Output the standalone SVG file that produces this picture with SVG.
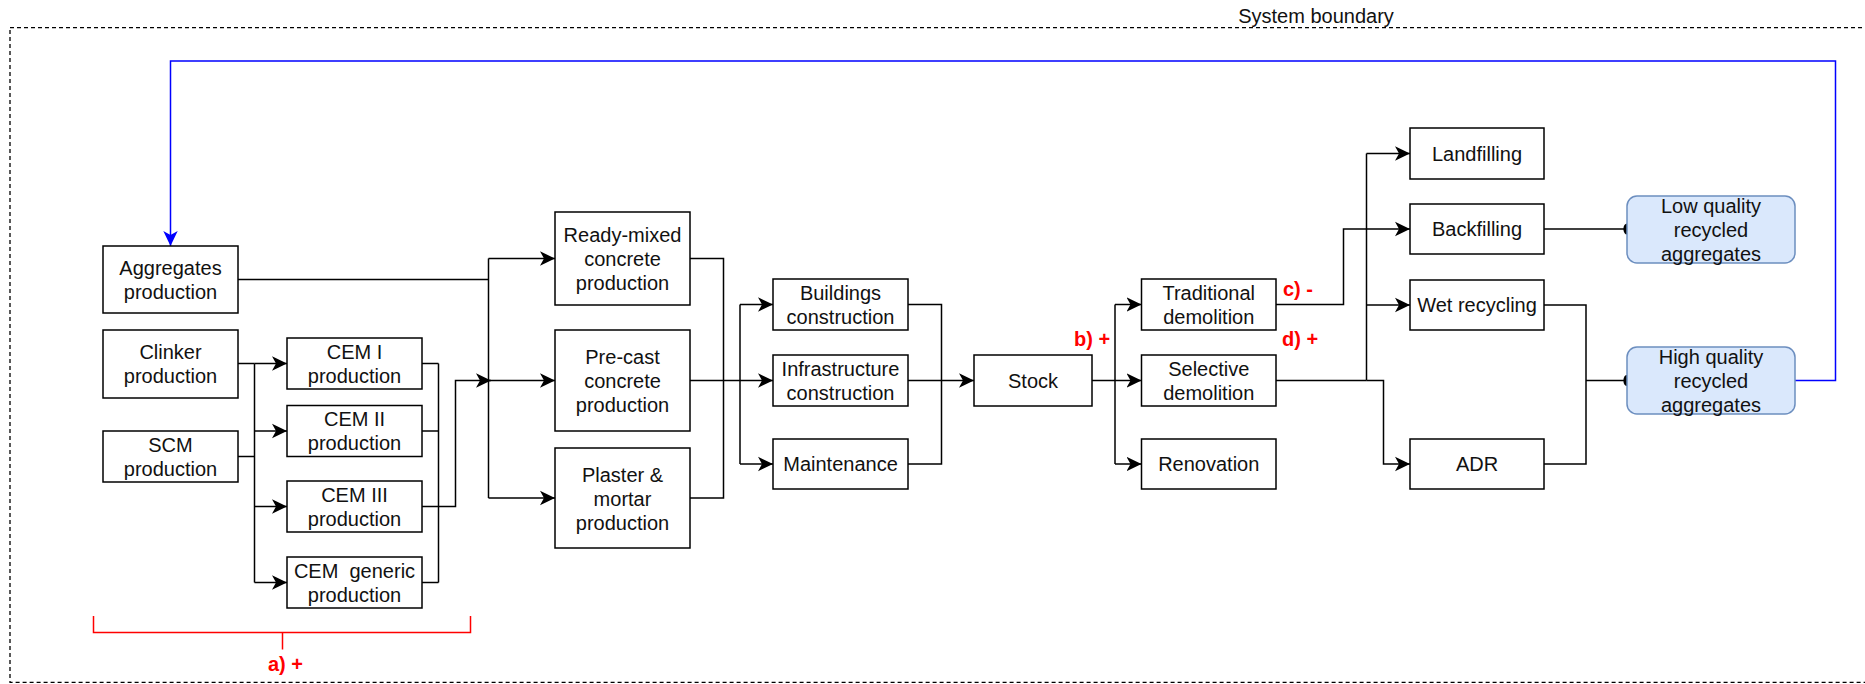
<svg xmlns="http://www.w3.org/2000/svg" width="1865" height="684" viewBox="0 0 1865 684">
  <style>
    .box { fill: #ffffff; stroke: #000000; stroke-width: 1.5; }
    .rec { fill: #dae8fc; stroke: #6c8ebf; stroke-width: 1.5; }
    .lbl { font-family: "Liberation Sans", Arial, sans-serif; font-size: 20px; text-anchor: middle; fill: #111111; white-space: pre; }
    .note { font-family: "Liberation Sans", Arial, sans-serif; font-size: 20px; font-weight: bold; fill: #ff0000; }
    .wire { fill: none; stroke: #000000; stroke-width: 1.5; }
    .arr { marker-end: url(#arrow); }
    .dot { marker-end: url(#oval); }
    .loop { fill: none; stroke: #0000ff; stroke-width: 1.5; marker-end: url(#arrowBlue); }
    .boundary { fill: none; stroke: #000000; stroke-width: 1.3; stroke-dasharray: 4 3; }
    .bracket { fill: none; stroke: #ff0000; stroke-width: 1.5; }
  </style>
  <defs>
    <marker id="arrow" viewBox="0 0 16 16" markerWidth="16" markerHeight="16" refX="15" refY="8" orient="auto" markerUnits="userSpaceOnUse">
      <path d="M0,0.8 L15,8 L0,15.2 L4,8 Z" fill="#000000"/>
    </marker>
    <marker id="arrowBlue" viewBox="0 0 16 16" markerWidth="16" markerHeight="16" refX="15" refY="8" orient="auto" markerUnits="userSpaceOnUse">
      <path d="M0,0.8 L15,8 L0,15.2 L4,8 Z" fill="#0000ff"/>
    </marker>
    <marker id="oval" viewBox="0 0 8 12" markerWidth="8" markerHeight="12" refX="4" refY="6" orient="auto" markerUnits="userSpaceOnUse">
      <ellipse cx="4" cy="6" rx="3.6" ry="5.6" fill="#000000"/>
    </marker>
  </defs>

  <!-- system boundary -->
  <g id="system-boundary">
    <rect class="boundary" x="10" y="27.7" width="1858" height="654.6"/>
    <text class="lbl" x="1316" y="23">System boundary</text>
  </g>

  <!-- connectors (drawn first so node fills cover the oval ends) -->
  <g id="connectors">
    <!-- aggregates to concrete / mortar products -->
    <path class="wire" d="M238,279.5 H488.5"/>
    <path class="wire" d="M488.5,258.5 V498"/>
    <path class="wire arr" d="M488.5,258.5 H555"/>
    <path class="wire arr" d="M488.5,380.5 H555"/>
    <path class="wire arr" d="M488.5,498 H555"/>

    <!-- clinker and SCM to cement types -->
    <path class="wire" d="M238,363.5 H254.5"/>
    <path class="wire" d="M238,456.5 H254.5"/>
    <path class="wire" d="M254.5,363.5 V582.5"/>
    <path class="wire arr" d="M254.5,363.5 H287"/>
    <path class="wire arr" d="M254.5,431 H287"/>
    <path class="wire arr" d="M254.5,506.5 H287"/>
    <path class="wire arr" d="M254.5,582.5 H287"/>

    <!-- cement types to concrete / mortar products -->
    <path class="wire" d="M422,363.5 H438.5"/>
    <path class="wire" d="M422,431 H438.5"/>
    <path class="wire" d="M422,582.5 H438.5"/>
    <path class="wire" d="M438.5,363.5 V582.5"/>
    <path class="wire arr" d="M422,506.5 H455.5 V380.5 H491"/>

    <!-- products to construction -->
    <path class="wire" d="M690,258.5 H723.5 V498 H690"/>
    <path class="wire arr" d="M690,380.5 H773"/>
    <path class="wire" d="M740,304.5 V464"/>
    <path class="wire arr" d="M740,304.5 H773"/>
    <path class="wire arr" d="M740,464 H773"/>

    <!-- construction to stock -->
    <path class="wire" d="M908,304.5 H941.5 V464 H908"/>
    <path class="wire arr" d="M908,380.5 H974"/>

    <!-- stock to end of life -->
    <path class="wire" d="M1092,380.5 H1115"/>
    <path class="wire" d="M1115,304.5 V464"/>
    <path class="wire arr" d="M1115,304.5 H1141.5"/>
    <path class="wire arr" d="M1115,380.5 H1141.5"/>
    <path class="wire arr" d="M1115,464 H1141.5"/>

    <!-- demolition routes -->
    <path class="wire arr" d="M1276,304.5 H1343.5 V229 H1410"/>
    <path class="wire" d="M1276,380.5 H1366.5"/>
    <path class="wire" d="M1366.5,153.5 V380.5"/>
    <path class="wire arr" d="M1366.5,153.5 H1410"/>
    <path class="wire arr" d="M1366.5,305 H1410"/>
    <path class="wire arr" d="M1366.5,380.5 H1383.5 V464 H1410"/>

    <!-- recycled aggregate outputs -->
    <path class="wire dot" d="M1544,229 H1627"/>
    <path class="wire" d="M1544,305 H1586 V464 H1544"/>
    <path class="wire dot" d="M1586,380.5 H1627"/>

    <!-- closed loop back to aggregates -->
    <path class="loop" d="M1795,380.5 H1835.5 V61 H170.5 V246"/>
  </g>

  <!-- production nodes -->
  <g id="aggregates-production">
    <rect class="box" x="103" y="246" width="135" height="67"/>
    <text class="lbl" x="170.5" y="274.5">Aggregates</text>
    <text class="lbl" x="170.5" y="298.5">production</text>
  </g>
  <g id="clinker-production">
    <rect class="box" x="103" y="330" width="135" height="68"/>
    <text class="lbl" x="170.5" y="359">Clinker</text>
    <text class="lbl" x="170.5" y="383">production</text>
  </g>
  <g id="scm-production">
    <rect class="box" x="103" y="431" width="135" height="51"/>
    <text class="lbl" x="170.5" y="451.5">SCM</text>
    <text class="lbl" x="170.5" y="475.5">production</text>
  </g>
  <g id="cem1-production">
    <rect class="box" x="287" y="338" width="135" height="51"/>
    <text class="lbl" x="354.5" y="358.5">CEM I</text>
    <text class="lbl" x="354.5" y="382.5">production</text>
  </g>
  <g id="cem2-production">
    <rect class="box" x="287" y="405.5" width="135" height="51"/>
    <text class="lbl" x="354.5" y="426">CEM II</text>
    <text class="lbl" x="354.5" y="450">production</text>
  </g>
  <g id="cem3-production">
    <rect class="box" x="287" y="481" width="135" height="51"/>
    <text class="lbl" x="354.5" y="501.5">CEM III</text>
    <text class="lbl" x="354.5" y="525.5">production</text>
  </g>
  <g id="cem-generic-production">
    <rect class="box" x="287" y="557" width="135" height="51"/>
    <text class="lbl" x="354.5" y="577.5">CEM  generic</text>
    <text class="lbl" x="354.5" y="601.5">production</text>
  </g>

  <!-- concrete and mortar products -->
  <g id="ready-mixed">
    <rect class="box" x="555" y="212" width="135" height="93"/>
    <text class="lbl" x="622.5" y="242">Ready-mixed</text>
    <text class="lbl" x="622.5" y="266">concrete</text>
    <text class="lbl" x="622.5" y="290">production</text>
  </g>
  <g id="pre-cast">
    <rect class="box" x="555" y="330" width="135" height="101"/>
    <text class="lbl" x="622.5" y="364">Pre-cast</text>
    <text class="lbl" x="622.5" y="388">concrete</text>
    <text class="lbl" x="622.5" y="412">production</text>
  </g>
  <g id="plaster-mortar">
    <rect class="box" x="555" y="448" width="135" height="100"/>
    <text class="lbl" x="622.5" y="481.5">Plaster &amp;</text>
    <text class="lbl" x="622.5" y="505.5">mortar</text>
    <text class="lbl" x="622.5" y="529.5">production</text>
  </g>

  <!-- construction -->
  <g id="buildings-construction">
    <rect class="box" x="773" y="279" width="135" height="51"/>
    <text class="lbl" x="840.5" y="299.5">Buildings</text>
    <text class="lbl" x="840.5" y="323.5">construction</text>
  </g>
  <g id="infrastructure-construction">
    <rect class="box" x="773" y="355" width="135" height="51"/>
    <text class="lbl" x="840.5" y="375.5">Infrastructure</text>
    <text class="lbl" x="840.5" y="399.5">construction</text>
  </g>
  <g id="maintenance">
    <rect class="box" x="773" y="439" width="135" height="50"/>
    <text class="lbl" x="840.5" y="471">Maintenance</text>
  </g>
  <g id="stock">
    <rect class="box" x="974" y="355" width="118" height="51"/>
    <text class="lbl" x="1033" y="387.5">Stock</text>
  </g>

  <!-- end of life -->
  <g id="traditional-demolition">
    <rect class="box" x="1141.5" y="279" width="134.5" height="51"/>
    <text class="lbl" x="1208.75" y="299.5">Traditional</text>
    <text class="lbl" x="1208.75" y="323.5">demolition</text>
  </g>
  <g id="selective-demolition">
    <rect class="box" x="1141.5" y="355" width="134.5" height="51"/>
    <text class="lbl" x="1208.75" y="375.5">Selective</text>
    <text class="lbl" x="1208.75" y="399.5">demolition</text>
  </g>
  <g id="renovation">
    <rect class="box" x="1141.5" y="439" width="134.5" height="50"/>
    <text class="lbl" x="1208.75" y="471">Renovation</text>
  </g>
  <g id="landfilling">
    <rect class="box" x="1410" y="128" width="134" height="51"/>
    <text class="lbl" x="1477" y="160.5">Landfilling</text>
  </g>
  <g id="backfilling">
    <rect class="box" x="1410" y="204" width="134" height="50"/>
    <text class="lbl" x="1477" y="236">Backfilling</text>
  </g>
  <g id="wet-recycling">
    <rect class="box" x="1410" y="280" width="134" height="50"/>
    <text class="lbl" x="1477" y="312">Wet recycling</text>
  </g>
  <g id="adr">
    <rect class="box" x="1410" y="439" width="134" height="50"/>
    <text class="lbl" x="1477" y="471">ADR</text>
  </g>

  <!-- recycled aggregates -->
  <g id="low-quality-aggregates">
    <rect class="rec" x="1627" y="196" width="168" height="67" rx="10" ry="10"/>
    <text class="lbl" x="1711" y="212.5">Low quality</text>
    <text class="lbl" x="1711" y="236.5">recycled</text>
    <text class="lbl" x="1711" y="260.5">aggregates</text>
  </g>
  <g id="high-quality-aggregates">
    <rect class="rec" x="1627" y="347" width="168" height="67" rx="10" ry="10"/>
    <text class="lbl" x="1711" y="363.5">High quality</text>
    <text class="lbl" x="1711" y="387.5">recycled</text>
    <text class="lbl" x="1711" y="411.5">aggregates</text>
  </g>

  <!-- scenario annotations -->
  <g id="annotations">
    <path class="bracket" d="M93.5,616 V632.5 H470.5 V616"/>
    <path class="bracket" d="M282.5,632.5 V649.5"/>
    <text class="note" x="268" y="671">a) +</text>
    <text class="note" x="1074" y="346">b) +</text>
    <text class="note" x="1283" y="296">c) -</text>
    <text class="note" x="1282" y="346">d) +</text>
  </g>
</svg>
